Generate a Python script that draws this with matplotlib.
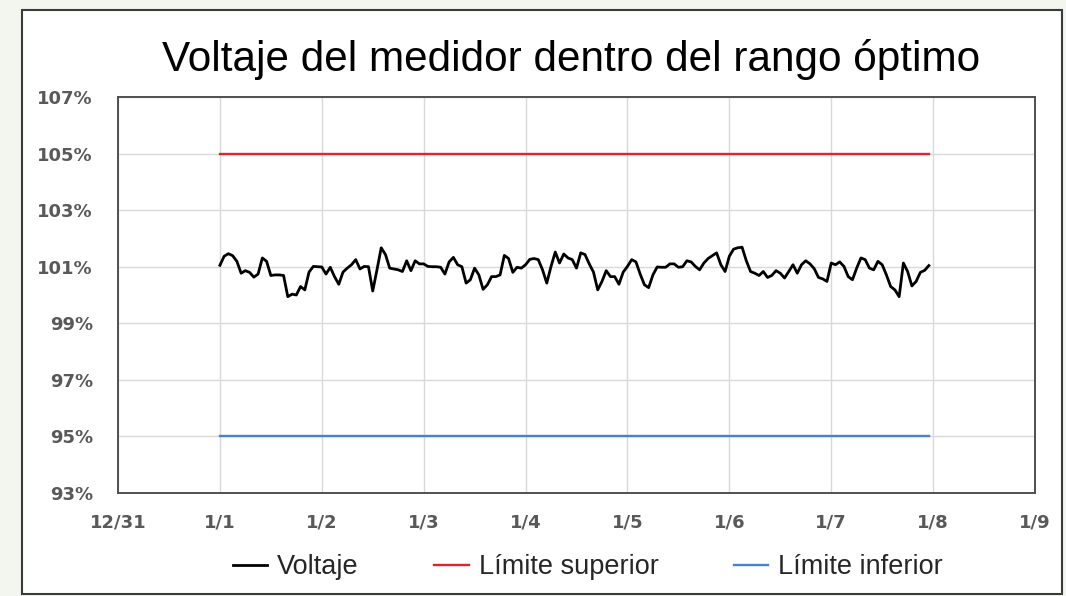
import matplotlib
matplotlib.use("Agg")
import matplotlib.pyplot as plt
import matplotlib.dates as mdates
from matplotlib.patches import Rectangle
from matplotlib.ticker import FuncFormatter
import datetime as dt

# ---- data ----
start_date = dt.datetime(2024, 1, 1)
voltaje = [
    # day 1 (1/1)
    101.05, 101.37, 101.46, 101.39, 101.19, 100.77, 100.86, 100.80, 100.63, 100.74, 101.31, 101.19,
    100.69, 100.71, 100.71, 100.69, 99.94, 100.03, 100.00, 100.30, 100.18, 100.81, 101.01, 101.00,
    # day 2 (1/2)
    100.99, 100.74, 100.98, 100.65, 100.38, 100.81, 100.95, 101.07, 101.25, 100.92, 101.01, 101.00,
    100.14, 100.89, 101.67, 101.43, 100.95, 100.92, 100.89, 100.83, 101.21, 100.86, 101.21, 101.10,
    # day 3 (1/3)
    101.10, 101.01, 101.00, 101.00, 100.98, 100.74, 101.17, 101.33, 101.07, 101.00, 100.42, 100.54,
    100.95, 100.71, 100.20, 100.36, 100.65, 100.65, 100.71, 101.40, 101.29, 100.80, 100.98, 100.95,
    # day 4 (1/4)
    101.07, 101.26, 101.29, 101.25, 100.89, 100.42, 101.01, 101.52, 101.13, 101.45, 101.31, 101.25,
    100.95, 101.49, 101.43, 101.10, 100.81, 100.18, 100.48, 100.86, 100.65, 100.65, 100.38, 100.81,
    # day 5 (1/5)
    101.01, 101.25, 101.17, 100.74, 100.36, 100.26, 100.71, 100.99, 100.98, 100.98, 101.10, 101.10,
    100.98, 101.00, 101.21, 101.17, 101.01, 100.89, 101.13, 101.29, 101.39, 101.49, 101.07, 100.83,
    # day 6 (1/6)
    101.37, 101.62, 101.67, 101.69, 101.21, 100.83, 100.77, 100.69, 100.83, 100.62, 100.69, 100.86,
    100.77, 100.60, 100.83, 101.07, 100.77, 101.07, 101.21, 101.10, 100.93, 100.62, 100.57, 100.48,
    # day 7 (1/7)
    101.13, 101.07, 101.17, 101.01, 100.65, 100.54, 100.95, 101.31, 101.25, 100.95, 100.89, 101.19,
    101.07, 100.71, 100.30, 100.18, 99.94, 101.13, 100.83, 100.32, 100.48, 100.80, 100.87, 101.04,
]
limite_superior = 105.0
limite_inferior = 95.0
y_ticks = [93, 95, 97, 99, 101, 103, 105, 107]
x_start = dt.datetime(2023, 12, 31)
x_end = dt.datetime(2024, 1, 9)
title = "Voltaje del medidor dentro del rango óptimo"
series_labels = ["Voltaje", "Límite superior", "Límite inferior"]

times = [start_date + dt.timedelta(hours=h) for h in range(len(voltaje))]
lim_times = [start_date, start_date + dt.timedelta(hours=len(voltaje) - 1)]

# ---- figure ----
W, H = 1066, 596
fig = plt.figure(figsize=(W / 100, H / 100), dpi=100)
fig.patch.set_facecolor("#f2f6ee")

# chart area (white box with dark border)
fig.patches.append(Rectangle((22 / W, 2 / H), (1062 - 22) / W, (594 - 10) / H,
                             transform=fig.transFigure, facecolor="white",
                             edgecolor="#3a3a3a", linewidth=1.5, zorder=-10))

ax = fig.add_axes([118 / W, 1 - 493 / H, (1035 - 118) / W, (493 - 97) / H], zorder=1)
ax.set_facecolor("white")

l1, = ax.plot(times, voltaje, color="black", linewidth=2.0, zorder=3,
              solid_joinstyle="round")
l2, = ax.plot(lim_times, [limite_superior] * 2, color="#e0262b", linewidth=1.7, zorder=3)
l3, = ax.plot(lim_times, [limite_inferior] * 2, color="#4a7fd6", linewidth=1.7, zorder=3)

ax.set_xlim(x_start, x_end)
ax.set_ylim(93, 107)
ax.set_yticks(y_ticks)
ax.yaxis.set_major_formatter(FuncFormatter(lambda v, p: f"{v:.0f}%"))
ax.xaxis.set_major_locator(mdates.DayLocator())
ax.xaxis.set_major_formatter(FuncFormatter(
    lambda v, p: f"{mdates.num2date(v).month}/{mdates.num2date(v).day}"))

ax.grid(True, color="#d9d9d9", linewidth=1.0, zorder=0)
ax.set_axisbelow(True)
for s in ax.spines.values():
    s.set_color("#505050")
    s.set_linewidth(1.4)
ax.tick_params(length=0, labelsize=13, labelcolor="#595959")
ax.tick_params(axis="x", pad=15)
ax.tick_params(axis="y", pad=18)
for lab in ax.get_xticklabels() + ax.get_yticklabels():
    lab.set_fontfamily("DejaVu Sans")
    lab.set_fontweight("bold")

fig.text(571 / W, 1 - 60 / H, title, ha="center", va="center",
         fontsize=30.4, family="Liberation Sans", color="black")

leg = fig.legend([l1, l2, l3], series_labels, loc="center", bbox_to_anchor=(588 / W, 1 - 567 / H),
                 ncol=3, frameon=False, prop={"family": "Liberation Sans", "size": 19.5},
                 handlelength=1.26, columnspacing=2.8, handletextpad=0.37)
for t in leg.get_texts():
    t.set_color("#262626")

fig.savefig("out.png", dpi=100, facecolor=fig.get_facecolor())
